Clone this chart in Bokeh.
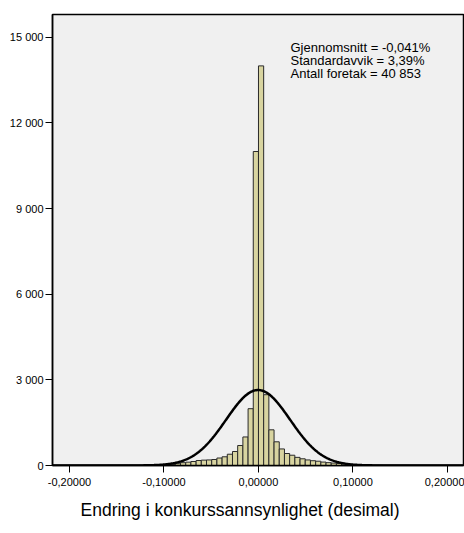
import numpy as np
from bokeh.plotting import figure
from bokeh.models import Range1d, FixedTicker, CustomJSTickFormatter, Label, Title, ColumnDataSource
from bokeh.embed import file_html
from bokeh.resources import INLINE

# ---- data ----
bin_width = 0.0055
first_bin_index = -40          # bins are [i*w, (i+1)*w]
counts = [
    4, 3, 4, 5, 4, 5, 6, 5, 6, 7, 6, 8, 7, 8, 9, 10, 9, 11, 12, 14,
    16, 20, 28, 40, 62, 98, 117, 140, 175, 188, 195, 210, 262, 305, 395, 490, 700, 1000, 1990, 11000,
    14000, 2480, 1250, 830, 580, 420, 360, 285, 235, 195, 168, 150, 120, 100, 85, 70, 53, 40, 30, 22,
    18, 15, 13, 12, 10, 9, 8, 7, 7, 6, 6, 5, 5, 4, 4, 4, 3, 3, 3, 2,
]
mean_pct = -0.041
std_pct = 3.39
n_firms = 40853
x_ticks = [-0.2, -0.1, 0.0, 0.1, 0.2]
y_ticks = [0, 3000, 6000, 9000, 12000, 15000]
stats_lines = ["Gjennomsnitt = -0,041%", "Standardavvik = 3,39%", "Antall foretak = 40 853"]
x_title = "Endring i konkurssannsynlighet (desimal)"

# ---- derived ----
idx = np.arange(first_bin_index, first_bin_index + len(counts))
left = idx * bin_width
right = left + bin_width
src = ColumnDataSource(dict(left=left, right=right, top=counts, bottom=[0] * len(counts)))

mu = mean_pct / 100.0
sd = std_pct / 100.0
xc = np.linspace(-0.218, 0.217, 600)
yc = n_firms * bin_width / (sd * np.sqrt(2 * np.pi)) * np.exp(-0.5 * ((xc - mu) / sd) ** 2)

FONT = "Liberation Sans"

p = figure(width=464, height=528, x_range=Range1d(-0.218, 0.217), y_range=Range1d(0, 15800),
           output_backend="svg", toolbar_location=None,
           min_border_left=52, min_border_right=1, min_border_top=14, min_border_bottom=63)
p.background_fill_color = "#f0f0f0"
p.border_fill_color = "white"
p.outline_line_color = "black"
p.outline_line_width = 1.5
p.xgrid.visible = False
p.ygrid.visible = False

p.quad(left="left", right="right", top="top", bottom="bottom", source=src,
       fill_color="#d8d4a0", line_color="#2a2a2a", line_width=1)
p.line(xc, yc, line_color="black", line_width=2.5)

for ax in (p.xaxis[0], p.yaxis[0]):
    ax.axis_line_color = "black"
    ax.axis_line_width = 1.5
    ax.major_tick_line_color = "black"
    ax.major_tick_in = 0
    ax.major_tick_out = 7
    ax.minor_tick_line_color = None
    ax.major_label_text_font = FONT
    ax.major_label_text_font_size = "11px"
    ax.major_label_text_color = "black"

p.xaxis.ticker = FixedTicker(ticks=x_ticks)
p.yaxis.ticker = FixedTicker(ticks=y_ticks)
p.xaxis.major_label_standoff = 5
p.yaxis.major_label_standoff = 2
p.xaxis.formatter = CustomJSTickFormatter(code="""
    const v = Math.abs(tick) < 1e-12 ? 0 : tick;
    return v.toFixed(5).replace('.', ',');
""")
p.yaxis.formatter = CustomJSTickFormatter(code="""
    const s = Math.round(tick).toString();
    return s.replace(/\\B(?=(\\d{3})+(?!\\d))/g, ' ');
""")

label_x = 0.0339
label_y = [14660, 14195, 13730]
for txt, yy in zip(stats_lines, label_y):
    p.add_layout(Label(x=label_x, y=yy, text=txt, text_font=FONT, text_font_size="13px",
                       text_color="black", text_baseline="alphabetic"))

t = Title(text=x_title, align="left", offset=28, text_font=FONT, text_font_size="17.5px",
          text_font_style="normal", text_color="black", standoff=18)
p.add_layout(t, "below")

open("out.html", "w").write(file_html(p, INLINE))
